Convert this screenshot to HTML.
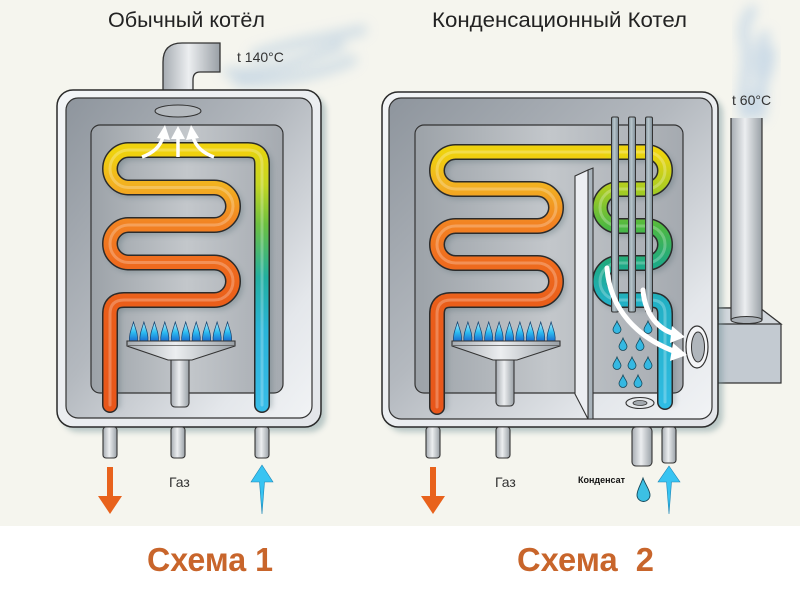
<!DOCTYPE html>
<html><head><meta charset="utf-8">
<style>
html,body{margin:0;padding:0;width:800px;height:600px;overflow:hidden;background:#fff}
svg{display:block}
text{font-family:"Liberation Sans","DejaVu Sans",sans-serif}
</style></head><body>
<svg width="800" height="600" viewBox="0 0 800 600" xmlns="http://www.w3.org/2000/svg">
<defs>
 <linearGradient id="outer" x1="0" y1="0" x2="1" y2="1"><stop offset="0" stop-color="#f3f5f7"/><stop offset="1" stop-color="#e3e6ea"/></linearGradient>
 <linearGradient id="frame" x1="0" y1="0" x2="1" y2="1"><stop offset="0" stop-color="#8e959d"/><stop offset=".45" stop-color="#b4b9bf"/><stop offset=".8" stop-color="#e4e7eb"/><stop offset="1" stop-color="#f1f3f5"/></linearGradient>
 <linearGradient id="panel" x1="0" y1="0" x2="1" y2="0"><stop offset="0" stop-color="#9ca2a8"/><stop offset=".5" stop-color="#c3c7cb"/><stop offset="1" stop-color="#a5aab0"/></linearGradient>
 <linearGradient id="metalH" x1="0" y1="0" x2="1" y2="0"><stop offset="0" stop-color="#a6acb2"/><stop offset=".45" stop-color="#eceef0"/><stop offset="1" stop-color="#99a0a6"/></linearGradient>
 <linearGradient id="tube" x1="0" y1="0" x2="1" y2="0"><stop offset="0" stop-color="#7d8d96"/><stop offset=".4" stop-color="#b8c6cc"/><stop offset="1" stop-color="#7a8a93"/></linearGradient>
 <linearGradient id="serp" gradientUnits="userSpaceOnUse" x1="0" y1="145" x2="0" y2="410">
  <stop offset="0" stop-color="#efd20e"/><stop offset=".03" stop-color="#efd20e"/>
  <stop offset=".16" stop-color="#f2ae22"/><stop offset=".30" stop-color="#f28222"/>
  <stop offset=".44" stop-color="#ef6c1e"/><stop offset=".6" stop-color="#ea5e1a"/>
  <stop offset="1" stop-color="#e8561a"/></linearGradient>
 <linearGradient id="coolL" gradientUnits="userSpaceOnUse" x1="0" y1="145" x2="0" y2="410">
  <stop offset="0" stop-color="#ead40e"/><stop offset=".15" stop-color="#c4d622"/>
  <stop offset=".3" stop-color="#6cc040"/><stop offset=".5" stop-color="#22b0a0"/>
  <stop offset=".7" stop-color="#2ab4d8"/><stop offset="1" stop-color="#38bce8"/></linearGradient>
 <linearGradient id="coolR" gradientUnits="userSpaceOnUse" x1="0" y1="145" x2="0" y2="410">
  <stop offset="0" stop-color="#eed40e"/><stop offset=".03" stop-color="#eed40e"/>
  <stop offset=".17" stop-color="#a8cc22"/><stop offset=".31" stop-color="#4cb842"/>
  <stop offset=".45" stop-color="#1eaa84"/><stop offset=".59" stop-color="#22b0c4"/>
  <stop offset="1" stop-color="#30bce4"/></linearGradient>
 <linearGradient id="flame" x1="0" y1="0" x2="0" y2="1"><stop offset="0" stop-color="#b8f0ff"/><stop offset=".55" stop-color="#2cbcf0"/><stop offset="1" stop-color="#1a6ed0"/></linearGradient>
 <filter id="blur3" x="-20%" y="-20%" width="140%" height="140%"><feGaussianBlur stdDeviation="3"/></filter>
 <filter id="blur5" x="-40%" y="-40%" width="180%" height="180%"><feGaussianBlur stdDeviation="6"/></filter>
 <path id="fl" d="M-4,0 C-4.6,-7 -2,-12 0,-19 C2,-12 4.6,-7 4,0 Z" fill="url(#flame)" stroke="#13406e" stroke-width=".7"/>
 <path id="dr" d="M0,-6 C1,-3 4,0 4,2.5 A4,4 0 0 1 -4,2.5 C-4,0 -1,-3 0,-6Z" fill="#35b8e2" stroke="#15485a" stroke-width=".8"/>
</defs>

<rect x="0" y="0" width="800" height="526" fill="#f5f5ee"/>

<!-- smoke left -->
<g filter="url(#blur5)" fill="none" stroke="#b4cade" stroke-width="10" opacity=".6" stroke-linecap="round">
 <path d="M228,72 C260,76 300,62 340,46"/>
 <path d="M255,55 C285,44 320,40 362,30"/>
 <path d="M238,82 C272,84 320,74 352,60"/>
</g>
<!-- smoke right -->
<g filter="url(#blur5)" fill="none" stroke="#b0c9e2" stroke-width="10" opacity=".6" stroke-linecap="round">
 <path d="M745,116 C738,90 752,70 745,40 C741,26 748,16 752,10"/>
 <path d="M760,116 C768,90 752,65 765,35"/>
 <path d="M752,112 C750,95 772,80 770,50"/>
</g>

<!-- titles -->
<text x="186.5" y="27" font-size="21" text-anchor="middle" fill="#222" textLength="157" lengthAdjust="spacingAndGlyphs">Обычный котёл</text>
<text x="559.5" y="27" font-size="21" text-anchor="middle" fill="#222" textLength="255" lengthAdjust="spacingAndGlyphs">Конденсационный Котел</text>
<text x="237" y="62" font-size="14" fill="#333">t 140°C</text>
<text x="732" y="105" font-size="14" fill="#333">t 60°C</text>

<!-- ============ LEFT BOILER ============ -->
<path d="M163,92 V62 Q163,43 182,43 H220 V72 H200 Q193,72 193,80 V92 Z" fill="url(#metalH)" stroke="#333" stroke-width="1.3"/>
<rect x="62" y="95" width="264" height="337" rx="16" fill="#6f8f94" opacity=".45" filter="url(#blur3)"/>
<rect x="57" y="90" width="264" height="337" rx="16" fill="url(#outer)" stroke="#2a2a2a" stroke-width="1.5"/>
<rect x="66" y="98" width="246" height="320" rx="12" fill="url(#frame)" stroke="#333" stroke-width="1.2"/>
<rect x="91" y="125" width="192" height="268" rx="9" fill="url(#panel)" stroke="#333" stroke-width="1.2"/>
<ellipse cx="178" cy="111" rx="23" ry="6" fill="#b4b9be" stroke="#333" stroke-width="1.1"/>

<g opacity=".3" filter="url(#blur3)" transform="translate(3,3)" fill="none" stroke="#3c5a60" stroke-width="14">
 <path d="M110,405 V314 Q110,300 124,300 H214.25 A18.75,18.75 0 0 0 214.25,262.5 H128.75 A18.75,18.75 0 0 1 128.75,225 H214.25 A18.75,18.75 0 0 0 214.25,187.5 H128.75 A18.75,18.75 0 0 1 128.75,150 H248 Q262,150 262,164 V405"/>
</g>
<g fill="none" stroke-linecap="round" stroke-linejoin="round">
 <path d="M240,150 H248 Q262,150 262,164 V405" stroke="#2b2b2b" stroke-width="16"/>
 <path d="M110,405 V314 Q110,300 124,300 H214.25 A18.75,18.75 0 0 0 214.25,262.5 H128.75 A18.75,18.75 0 0 1 128.75,225 H214.25 A18.75,18.75 0 0 0 214.25,187.5 H128.75 A18.75,18.75 0 0 1 128.75,150 H245" stroke="#2b2b2b" stroke-width="16"/>
 <path d="M240,150 H248 Q262,150 262,164 V405" stroke="url(#coolL)" stroke-width="13"/>
 <path d="M110,405 V314 Q110,300 124,300 H214.25 A18.75,18.75 0 0 0 214.25,262.5 H128.75 A18.75,18.75 0 0 1 128.75,225 H214.25 A18.75,18.75 0 0 0 214.25,187.5 H128.75 A18.75,18.75 0 0 1 128.75,150 H245" stroke="url(#serp)" stroke-width="13"/>
 <path d="M110,405 V314 Q110,300 124,300 H214.25 A18.75,18.75 0 0 0 214.25,262.5 H128.75 A18.75,18.75 0 0 1 128.75,225 H214.25 A18.75,18.75 0 0 0 214.25,187.5 H128.75 A18.75,18.75 0 0 1 128.75,150 H248 Q262,150 262,164 V405" stroke="#fff" stroke-width="3" opacity=".25"/>
</g>

<g fill="#fff" stroke="none">
 <path d="M178,157 V136" stroke="#fff" stroke-width="3.5" fill="none"/>
 <polygon points="171,139 178,126 185,139"/>
 <path d="M142,157 Q159,151 163,137" stroke="#fff" stroke-width="3.5" fill="none"/>
 <polygon points="157,138 165,125 170,140"/>
 <path d="M214,157 Q197,151 193,137" stroke="#fff" stroke-width="3.5" fill="none"/>
 <polygon points="186,140 191,125 199,138"/>
</g>

<g>
 <use href="#fl" x="133.5" y="341"/><use href="#fl" x="143.9" y="341"/><use href="#fl" x="154.4" y="341"/><use href="#fl" x="164.8" y="341"/><use href="#fl" x="175.3" y="341"/>
 <use href="#fl" x="185.7" y="341"/><use href="#fl" x="196.2" y="341"/><use href="#fl" x="206.6" y="341"/><use href="#fl" x="217.1" y="341"/><use href="#fl" x="227.5" y="341"/>
 <rect x="171" y="356" width="18" height="51" rx="4" fill="url(#metalH)" stroke="#333" stroke-width="1.1"/>
 <path d="M127,341 H235 V346 L192,360 H168 L127,346 Z" fill="url(#metalH)" stroke="#333" stroke-width="1.1"/>
 <line x1="128" y1="345.5" x2="234" y2="345.5" stroke="#555" stroke-width=".8"/>
</g>

<g fill="url(#metalH)" stroke="#333" stroke-width="1.1">
 <rect x="103" y="427" width="14" height="31" rx="3"/>
 <rect x="171" y="427" width="14" height="31" rx="3"/>
 <rect x="255" y="427" width="14" height="31" rx="3"/>
</g>
<polygon points="107,467 113,467 113,496 122,496 110,514 98,496 107,496" fill="#e8621c"/>
<polygon points="262,465 273,482 264.5,482 262,514 259.5,482 251,482" fill="#38c4f2" stroke="#1d86b6" stroke-width=".6"/>
<text x="169" y="487" font-size="14" fill="#333">Газ</text>

<!-- ============ RIGHT BOILER ============ -->
<path d="M710,308 H760 L781,324 V383 H710 Z" fill="#c3cad1" stroke="#333" stroke-width="1.2"/>
<path d="M718,308 H760 L781,324 H718 Z" fill="#d3d8dd" stroke="#333" stroke-width="1.2"/>
<rect x="731" y="118" width="31" height="203" fill="url(#metalH)"/>
<ellipse cx="746.5" cy="320" rx="15.5" ry="3.5" fill="#a9afb5" stroke="#333" stroke-width="1.1"/>
<line x1="731" y1="118" x2="731" y2="320" stroke="#333" stroke-width="1.2"/>
<line x1="762" y1="118" x2="762" y2="320" stroke="#333" stroke-width="1.2"/>

<rect x="387" y="97" width="336" height="335" rx="16" fill="#6f8f94" opacity=".45" filter="url(#blur3)"/>
<rect x="382" y="92" width="336" height="335" rx="16" fill="url(#outer)" stroke="#2a2a2a" stroke-width="1.5"/>
<rect x="389" y="98" width="323" height="321" rx="12" fill="url(#frame)" stroke="#333" stroke-width="1.2"/>
<rect x="415" y="125" width="268" height="268" rx="9" fill="url(#panel)" stroke="#333" stroke-width="1.2"/>

<g opacity=".3" filter="url(#blur3)" transform="translate(3,3)" fill="none" stroke="#3c5a60" stroke-width="14">
 <path d="M437,407 V314 Q437,300 451,300 H537.5 A18.5,18.5 0 0 0 537.5,263 H455.5 A18.5,18.5 0 0 1 455.5,226 H537.5 A18.5,18.5 0 0 0 537.5,189 H455.5 A18.5,18.5 0 0 1 455.5,152 H646.5 A18.5,18.5 0 0 1 646.5,189 H618.5 A18.5,18.5 0 0 0 618.5,226 H646.5 A18.5,18.5 0 0 1 646.5,263 H618.5 A18.5,18.5 0 0 0 618.5,300 H651 Q665,300 665,314 V402"/>
</g>
<g fill="none" stroke-linecap="round" stroke-linejoin="round">
 <path d="M437,407 V314 Q437,300 451,300 H537.5 A18.5,18.5 0 0 0 537.5,263 H455.5 A18.5,18.5 0 0 1 455.5,226 H537.5 A18.5,18.5 0 0 0 537.5,189 H455.5 A18.5,18.5 0 0 1 455.5,152 H646.5 A18.5,18.5 0 0 1 646.5,189 H618.5 A18.5,18.5 0 0 0 618.5,226 H646.5 A18.5,18.5 0 0 1 646.5,263 H618.5 A18.5,18.5 0 0 0 618.5,300 H651 Q665,300 665,314 V402" stroke="#2b2b2b" stroke-width="16"/>
 <path d="M437,407 V314 Q437,300 451,300 H537.5 A18.5,18.5 0 0 0 537.5,263 H455.5 A18.5,18.5 0 0 1 455.5,226 H537.5 A18.5,18.5 0 0 0 537.5,189 H455.5 A18.5,18.5 0 0 1 455.5,152 H620" stroke="url(#serp)" stroke-width="13"/>
 <path d="M610,152 H646.5 A18.5,18.5 0 0 1 646.5,189 H618.5 A18.5,18.5 0 0 0 618.5,226 H646.5 A18.5,18.5 0 0 1 646.5,263 H618.5 A18.5,18.5 0 0 0 618.5,300 H651 Q665,300 665,314 V402" stroke="url(#coolR)" stroke-width="13"/>
 <path d="M437,407 V314 Q437,300 451,300 H537.5 A18.5,18.5 0 0 0 537.5,263 H455.5 A18.5,18.5 0 0 1 455.5,226 H537.5 A18.5,18.5 0 0 0 537.5,189 H455.5 A18.5,18.5 0 0 1 455.5,152 H646.5 A18.5,18.5 0 0 1 646.5,189 H618.5 A18.5,18.5 0 0 0 618.5,226 H646.5 A18.5,18.5 0 0 1 646.5,263 H618.5 A18.5,18.5 0 0 0 618.5,300 H651 Q665,300 665,314 V402" stroke="#fff" stroke-width="3" opacity=".25"/>
</g>

<path d="M588,170 L593,168 V419 H588 Z" fill="#a9b3bb" stroke="#333" stroke-width="1.1"/>
<path d="M575,176 L588,170 V419 L575,394 Z" fill="#eceef2" stroke="#333" stroke-width="1.1"/>

<g fill="url(#tube)" stroke="#333" stroke-width="1">
 <rect x="611.5" y="117" width="7" height="195" rx="1.5"/>
 <rect x="628.5" y="117" width="7" height="195" rx="1.5"/>
 <rect x="645.5" y="117" width="7" height="195" rx="1.5"/>
</g>

<g>
 <use href="#dr" x="617" y="327"/><use href="#dr" x="648" y="327"/>
 <use href="#dr" x="623" y="344"/><use href="#dr" x="640" y="344"/>
 <use href="#dr" x="617" y="363"/><use href="#dr" x="632" y="363"/><use href="#dr" x="648" y="363"/>
 <use href="#dr" x="623" y="381"/><use href="#dr" x="638" y="381"/>
</g>

<ellipse cx="640" cy="403" rx="14" ry="5.5" fill="#e6e9ec" stroke="#333" stroke-width="1.1"/>
<ellipse cx="640" cy="403" rx="7" ry="2.5" fill="#a3a9af" stroke="#333" stroke-width=".8"/>

<ellipse cx="697" cy="347" rx="11" ry="21" fill="#f4f5f7" stroke="#333" stroke-width="1.2"/>
<ellipse cx="698" cy="347" rx="6.5" ry="15" fill="#b0b6bc" stroke="#333" stroke-width="1"/>

<g fill="none" stroke="#fff" stroke-width="5" stroke-linecap="round">
 <path d="M607,268 C610,310 638,338 676,352"/>
 <path d="M643,290 C645,316 660,330 675,334"/>
</g>
<g fill="#fff">
 <polygon points="673,343 687,355 670,361"/>
 <polygon points="672,326 685,337 670,343"/>
</g>

<g>
 <use href="#fl" x="457.5" y="341"/><use href="#fl" x="467.9" y="341"/><use href="#fl" x="478.3" y="341"/><use href="#fl" x="488.7" y="341"/><use href="#fl" x="499.1" y="341"/>
 <use href="#fl" x="509.5" y="341"/><use href="#fl" x="519.9" y="341"/><use href="#fl" x="530.3" y="341"/><use href="#fl" x="540.7" y="341"/><use href="#fl" x="551.1" y="341"/>
 <rect x="496" y="356" width="18" height="50" rx="4" fill="url(#metalH)" stroke="#333" stroke-width="1.1"/>
 <path d="M452,341 H560 V346 L517,360 H493 L452,346 Z" fill="url(#metalH)" stroke="#333" stroke-width="1.1"/>
 <line x1="453" y1="345.5" x2="559" y2="345.5" stroke="#555" stroke-width=".8"/>
</g>

<g fill="url(#metalH)" stroke="#333" stroke-width="1.1">
 <rect x="426" y="427" width="14" height="31" rx="3"/>
 <rect x="496" y="427" width="14" height="31" rx="3"/>
 <rect x="632" y="427" width="20" height="39" rx="4"/>
 <rect x="662" y="427" width="14" height="36" rx="3"/>
</g>
<polygon points="430,467 436,467 436,496 445,496 433,514 421,496 430,496" fill="#e8621c"/>
<polygon points="669,466 680,482 671.5,482 669,514 666.5,482 658,482" fill="#38c4f2" stroke="#1d86b6" stroke-width=".6"/>
<text x="495" y="487" font-size="14" fill="#333">Газ</text>
<text x="578" y="483" font-size="9" font-weight="bold" fill="#111" textLength="47" lengthAdjust="spacingAndGlyphs">Конденсат</text>
<path d="M643,478 C645,484 650,490 650,495 A6.5,6.5 0 0 1 637,495 C637,490 641,484 643,478 Z" fill="#3cc0e4" stroke="#15485a" stroke-width=".9"/>

<text x="210" y="571" font-size="33" font-weight="bold" text-anchor="middle" fill="#c8652b" textLength="126" lengthAdjust="spacingAndGlyphs">Схема 1</text>
<text x="585.5" y="571" font-size="33" font-weight="bold" text-anchor="middle" fill="#c8652b" textLength="137" lengthAdjust="spacingAndGlyphs" xml:space="preserve">Схема  2</text>
</svg>
</body></html>
